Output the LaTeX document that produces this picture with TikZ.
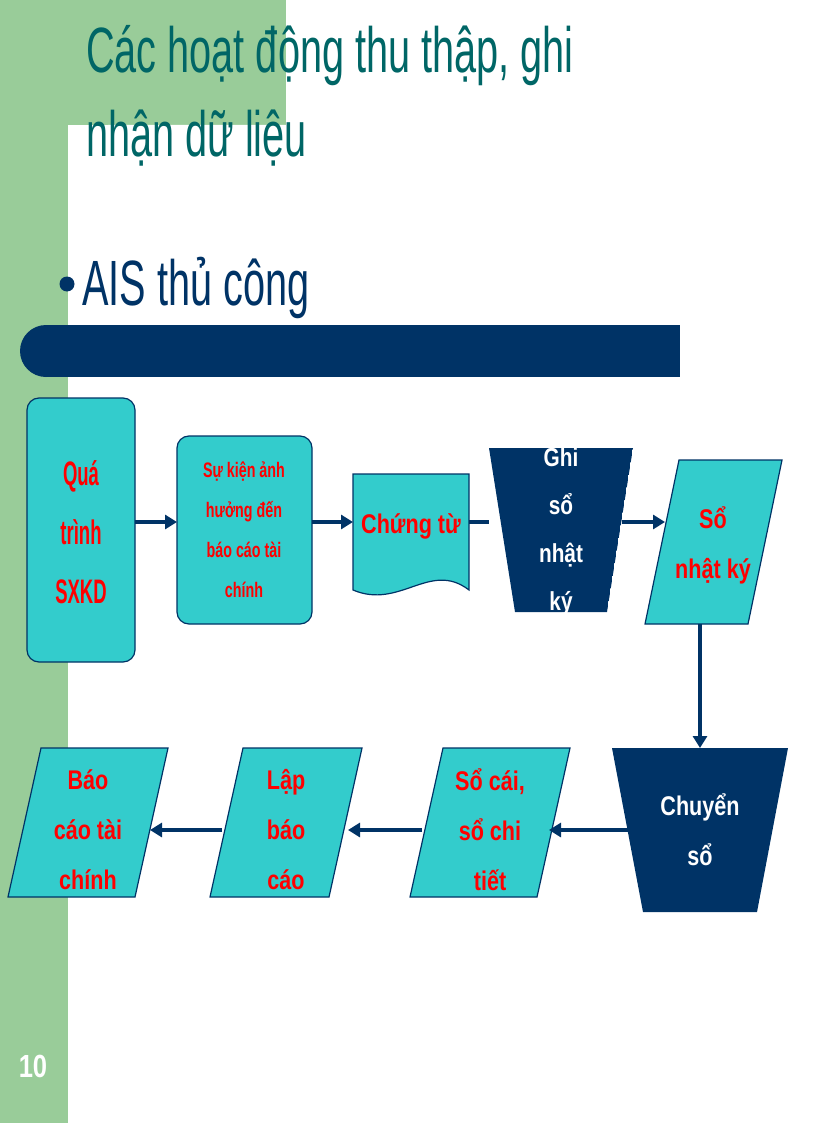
\documentclass[tikz,border=0pt]{standalone}
\usepackage{fontspec}
\setmainfont{Liberation Sans}
\usetikzlibrary{arrows.meta}
\definecolor{gr}{HTML}{99CC99}
\definecolor{navy}{HTML}{003366}
\definecolor{teal2}{HTML}{33CCCC}
\definecolor{ttl}{HTML}{006666}
\tikzset{
 box/.style={draw=navy,line width=1.2pt,fill=teal2},
 lab/.style={text=red,font=\bfseries\fontsize{27}{50}\selectfont,xscale=0.8,align=center},
 wlab/.style={text=white,font=\bfseries\fontsize{27}{50}\selectfont,xscale=0.8,align=center},
 big/.style={anchor=west,font=\fontsize{64}{70}\selectfont,xscale=0.62},
 arr/.style={navy,line width=3.5pt,-{Triangle[length=12pt,width=14pt]}}
}
\begin{document}
\begin{tikzpicture}[x=1pt,y=-1pt]
\useasboundingbox (0,0) rectangle (816,1123);
\fill[gr] (0,0) rectangle (68,1123);
\fill[gr] (0,0) rectangle (286,125);
\fill[white] (68,600) [rounded corners=40pt]-- (68,125) [sharp corners]-- (300,125) -- (300,600) -- cycle;
\node[big,text=ttl] (t1) at (84,56) {Các hoạt động thu thập, ghi};
\node[big,text=ttl] (t2) at (84,138) {nhận dữ liệu};
\fill[navy] (67,284) circle (7.5);
\node[big,text=navy] (b) at (80,288) {AIS thủ công};
\fill[navy] (46,351) circle (26);
\fill[navy] (46,325) rectangle (680,377);
% shapes
\draw[box,rounded corners=12pt] (27,398) rectangle (135,662);
\node[lab,font=\bfseries\fontsize{34}{59}\selectfont,xscale=0.68] (n1) at (81,532) {Quá\\trình\\SXKD};
\draw[box,rounded corners=12pt] (177,436) rectangle (312,624);
\node[lab,font=\bfseries\fontsize{21}{40}\selectfont,xscale=0.85] (n2) at (244,530) {Sự kiện ảnh\\hưởng đến\\báo cáo tài\\chính};
\draw[box] (353,474) -- (469,474) -- (469,590) .. controls (430,560) and (400,610) .. (353,590) -- cycle;
\node[lab] (n3) at (411,526) {Chứng từ};
\begin{scope}
\clip (489,448) -- (633,448) -- (607,612) -- (515,612) -- cycle;
\fill[navy] (489,448) -- (633,448) -- (607,612) -- (515,612) -- cycle;
\node[wlab,font=\bfseries\fontsize{26}{48}\selectfont] (n4) at (561,532) {Ghi\\sổ\\nhật\\ký};
\end{scope}
\coordinate (n4w) at (489,522); \coordinate (n4e) at (622,522);
\draw[box] (679,460) -- (782,460) -- (748,624) -- (645,624) -- cycle;
\node[lab] (n5) at (713,545) {Sổ\\nhật ký};
\fill[navy] (612,748) -- (788,748) -- (757,912) -- (643,912) -- cycle;
\node[wlab] (n6) at (700,830) {Chuyển\\sổ};
\draw[box] (443,748) -- (570,748) -- (537,897) -- (410,897) -- cycle;
\node[lab] (n7) at (490,830) {Sổ cái,\\sổ chi\\tiết};
\draw[box] (243,748) -- (362,748) -- (329,897) -- (210,897) -- cycle;
\node[lab] (n8) at (286,830) {Lập\\báo\\cáo};
\draw[box] (41,748) -- (168,748) -- (135,897) -- (8,897) -- cycle;
\node[lab] (n9) at (88,830) {Báo\\cáo tài\\chính};
% arrows
\coordinate (a1) at (135,522); \coordinate (a2) at (177,522);
\coordinate (a3) at (312,522); \coordinate (a4) at (353,522);
\coordinate (a5) at (469,522); \coordinate (a6) at (665,522);
\draw[arr] (a1) -- (a2);
\draw[arr] (a3) -- (a4);
\draw[navy,line width=3.5pt] (a5) -- (n4w);
\draw[arr] (n4e) -- (a6);
\coordinate (d1) at (700,624); \coordinate (d2) at (700,748);
\draw[arr] (d1) -- (d2);
\coordinate (c1) at (628,830); \coordinate (c2) at (549,830);
\draw[arr] (c1) -- (c2);
\coordinate (c3) at (422,830); \coordinate (c4) at (348,830);
\draw[arr] (c3) -- (c4);
\coordinate (c5) at (222,830); \coordinate (c6) at (150,830);
\draw[arr] (c5) -- (c6);
\node[text=white,font=\bfseries\fontsize{32}{36}\selectfont,xscale=0.8] (pg) at (33,1066) {10};
\end{tikzpicture}
\end{document}
